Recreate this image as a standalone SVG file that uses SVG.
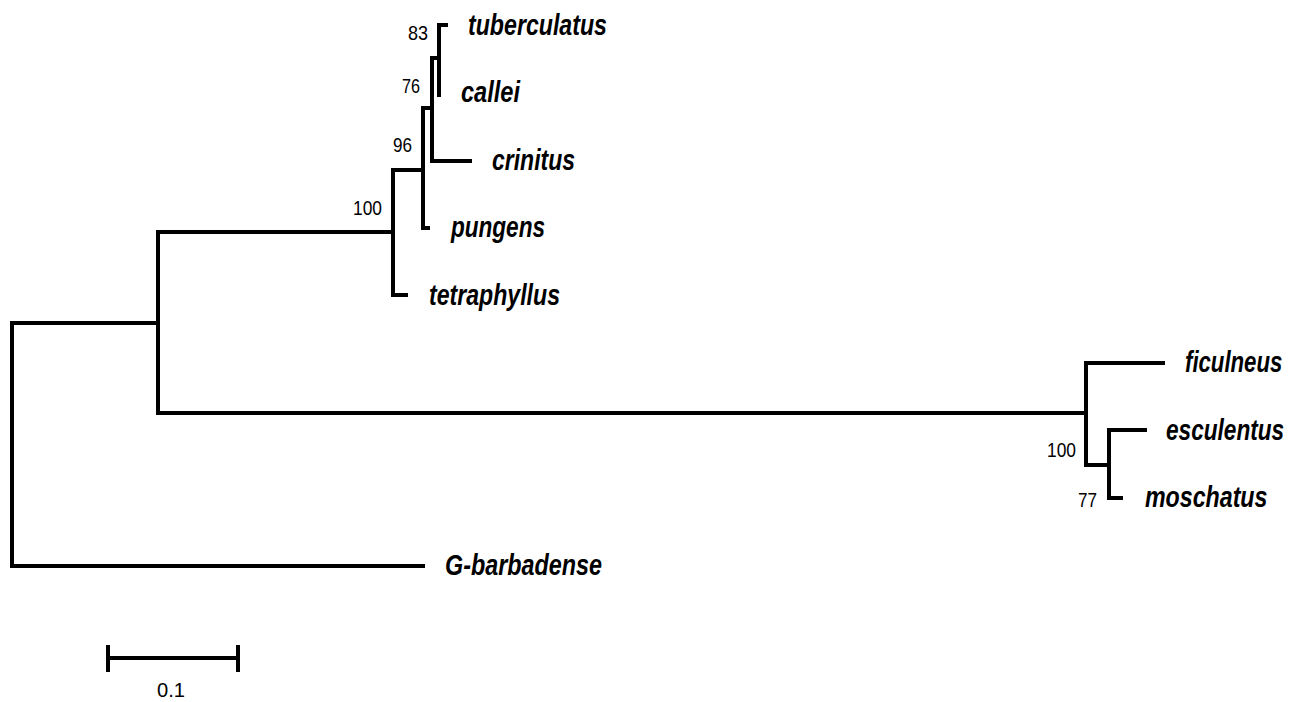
<svg xmlns="http://www.w3.org/2000/svg" width="1300" height="702" viewBox="0 0 1300 702">
<style>
.br{fill:none;stroke:#000;stroke-width:4;stroke-linejoin:miter;stroke-linecap:butt}
.tx{font-family:"Liberation Sans",Arial,sans-serif;font-weight:bold;font-style:italic;font-size:29px;fill:#000}
.bs{font-family:"Liberation Sans",Arial,sans-serif;font-size:21px;fill:#000}
</style>
<rect width="1300" height="702" fill="#fff"/>
<g id="connectors">
<path class="br" d="M12 444 V323 H158"/>
<path class="br" d="M12 444 V566 H425"/>
<path class="br" d="M158 322 V232 H393"/>
<path class="br" d="M158 322 V413 H1086"/>
<path class="br" d="M393 232 V170 H423"/>
<path class="br" d="M393 232 V295 H408"/>
<path class="br" d="M423 170 V108 H432"/>
<path class="br" d="M423 170 V228 H430"/>
<path class="br" d="M432 108 V58 H439"/>
<path class="br" d="M432 108 V161 H472"/>
<path class="br" d="M439 58 V25 H448"/>
<path class="br" d="M439 58 V95 H441"/>
<path class="br" d="M1086 413 V363 H1165"/>
<path class="br" d="M1086 413 V465 H1109"/>
<path class="br" d="M1109 465 V430 H1147"/>
<path class="br" d="M1109 465 V498 H1123"/>
</g>
<g id="n-tuberculatus"><text class="tx" x="468" y="35" textLength="139" lengthAdjust="spacingAndGlyphs">tuberculatus</text></g>
<g id="n-callei"><text class="tx" x="461" y="102" textLength="59" lengthAdjust="spacingAndGlyphs">callei</text></g>
<g id="n-crinitus"><text class="tx" x="492" y="170" textLength="83" lengthAdjust="spacingAndGlyphs">crinitus</text></g>
<g id="n-pungens"><text class="tx" x="451" y="237" textLength="94" lengthAdjust="spacingAndGlyphs">pungens</text></g>
<g id="n-tetraphyllus"><text class="tx" x="429" y="305" textLength="131" lengthAdjust="spacingAndGlyphs">tetraphyllus</text></g>
<g id="n-ficulneus"><text class="tx" transform="translate(1185 372) scale(0.765 1)">ficulneus</text></g>
<g id="n-esculentus"><text class="tx" transform="translate(1166 440) scale(0.78 1)">esculentus</text></g>
<g id="n-moschatus"><text class="tx" transform="translate(1145 507) scale(0.8 1)">moschatus</text></g>
<g id="n-gbarbadense"><text class="tx" x="445" y="575" textLength="157" lengthAdjust="spacingAndGlyphs">G-barbadense</text></g>
<g id="node-83"><text class="bs" x="408" y="40" textLength="20" lengthAdjust="spacingAndGlyphs">83</text></g>
<g id="node-76"><text class="bs" x="402" y="93" textLength="18" lengthAdjust="spacingAndGlyphs">76</text></g>
<g id="node-96"><text class="bs" x="393" y="152" textLength="19" lengthAdjust="spacingAndGlyphs">96</text></g>
<g id="node-100a"><text class="bs" x="353" y="215" textLength="29" lengthAdjust="spacingAndGlyphs">100</text></g>
<g id="node-100b"><text class="bs" x="1047" y="457" textLength="29" lengthAdjust="spacingAndGlyphs">100</text></g>
<g id="node-77"><text class="bs" x="1078" y="507" textLength="19" lengthAdjust="spacingAndGlyphs">77</text></g>
<g id="scale-bar">
<path class="br" d="M108 658 H238 M108 645 V672 M238 645 V672"/>
<text class="bs" x="157" y="697" textLength="28" lengthAdjust="spacingAndGlyphs">0.1</text>
</g>
</svg>
